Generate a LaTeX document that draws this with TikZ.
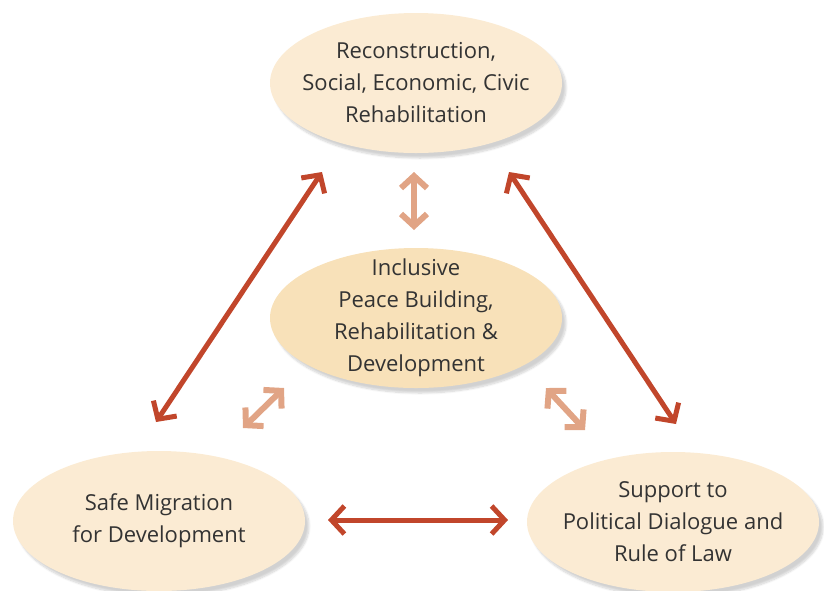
\documentclass[tikz,border=0pt]{standalone}
\usepackage{fontspec}
\setmainfont{Open Sans}
\usetikzlibrary{arrows.meta,shapes.geometric,shadows.blur}

\definecolor{cream}{HTML}{FBEBD3}
\definecolor{sand}{HTML}{F8E1B9}
\definecolor{rust}{HTML}{C1462B}
\definecolor{peach}{HTML}{E1A485}
\definecolor{ink}{HTML}{333333}

\begin{document}
\begin{tikzpicture}[x=1pt, y=-1pt,
        area/.style={ellipse, fill=cream, minimum width=292pt, minimum height=140pt,
            inner xsep=-40pt, inner ysep=-30pt, align=center, text=ink,
            font=\fontsize{22}{32}\selectfont,
            blur shadow={shadow xshift=4pt, shadow yshift=-5pt, shadow opacity=18, shadow blur steps=8}},
        link/.style={rust, line width=5pt, {Straight Barb[length=13pt,width=28pt]}-{Straight Barb[length=13pt,width=28pt]}},
        sublink/.style={peach, line width=6pt, {Straight Barb[length=12pt,width=26pt]}-{Straight Barb[length=12pt,width=26pt]}}]
    \useasboundingbox (0,0) rectangle (824,590);

    \node[area] (recon) at (416,83) {Reconstruction,\\Social, Economic, Civic\\Rehabilitation};
    \node[area, fill=sand] (core) at (416,318) {Inclusive\\Peace Building,\\Rehabilitation \&\\Development};
    \node[area] (migr) at (159,521) {Safe Migration\\for Development};
    \node[area] (dial) at (673,522) {Support to\\Political Dialogue and\\Rule of Law};

    % outer triangle
    \coordinate (a1) at (322,172);
    \coordinate (a2) at (156,422);
    \coordinate (b1) at (509,172);
    \coordinate (b2) at (676,424);
    \coordinate (c1) at (328,520);
    \coordinate (c2) at (508,520);
    \draw[link] (a1) -- (a2);
    \draw[link] (b1) -- (b2);
    \draw[link] (c1) -- (c2);

    % links to the centre
    \coordinate (d1) at (414,172);
    \coordinate (d2) at (414,230);
    \coordinate (e1) at (284,388);
    \coordinate (e2) at (243,428);
    \coordinate (f1) at (546,388);
    \coordinate (f2) at (585,430);
    \draw[sublink] (d1) -- (d2);
    \draw[sublink] (e1) -- (e2);
    \draw[sublink] (f1) -- (f2);
\end{tikzpicture}
\end{document}
